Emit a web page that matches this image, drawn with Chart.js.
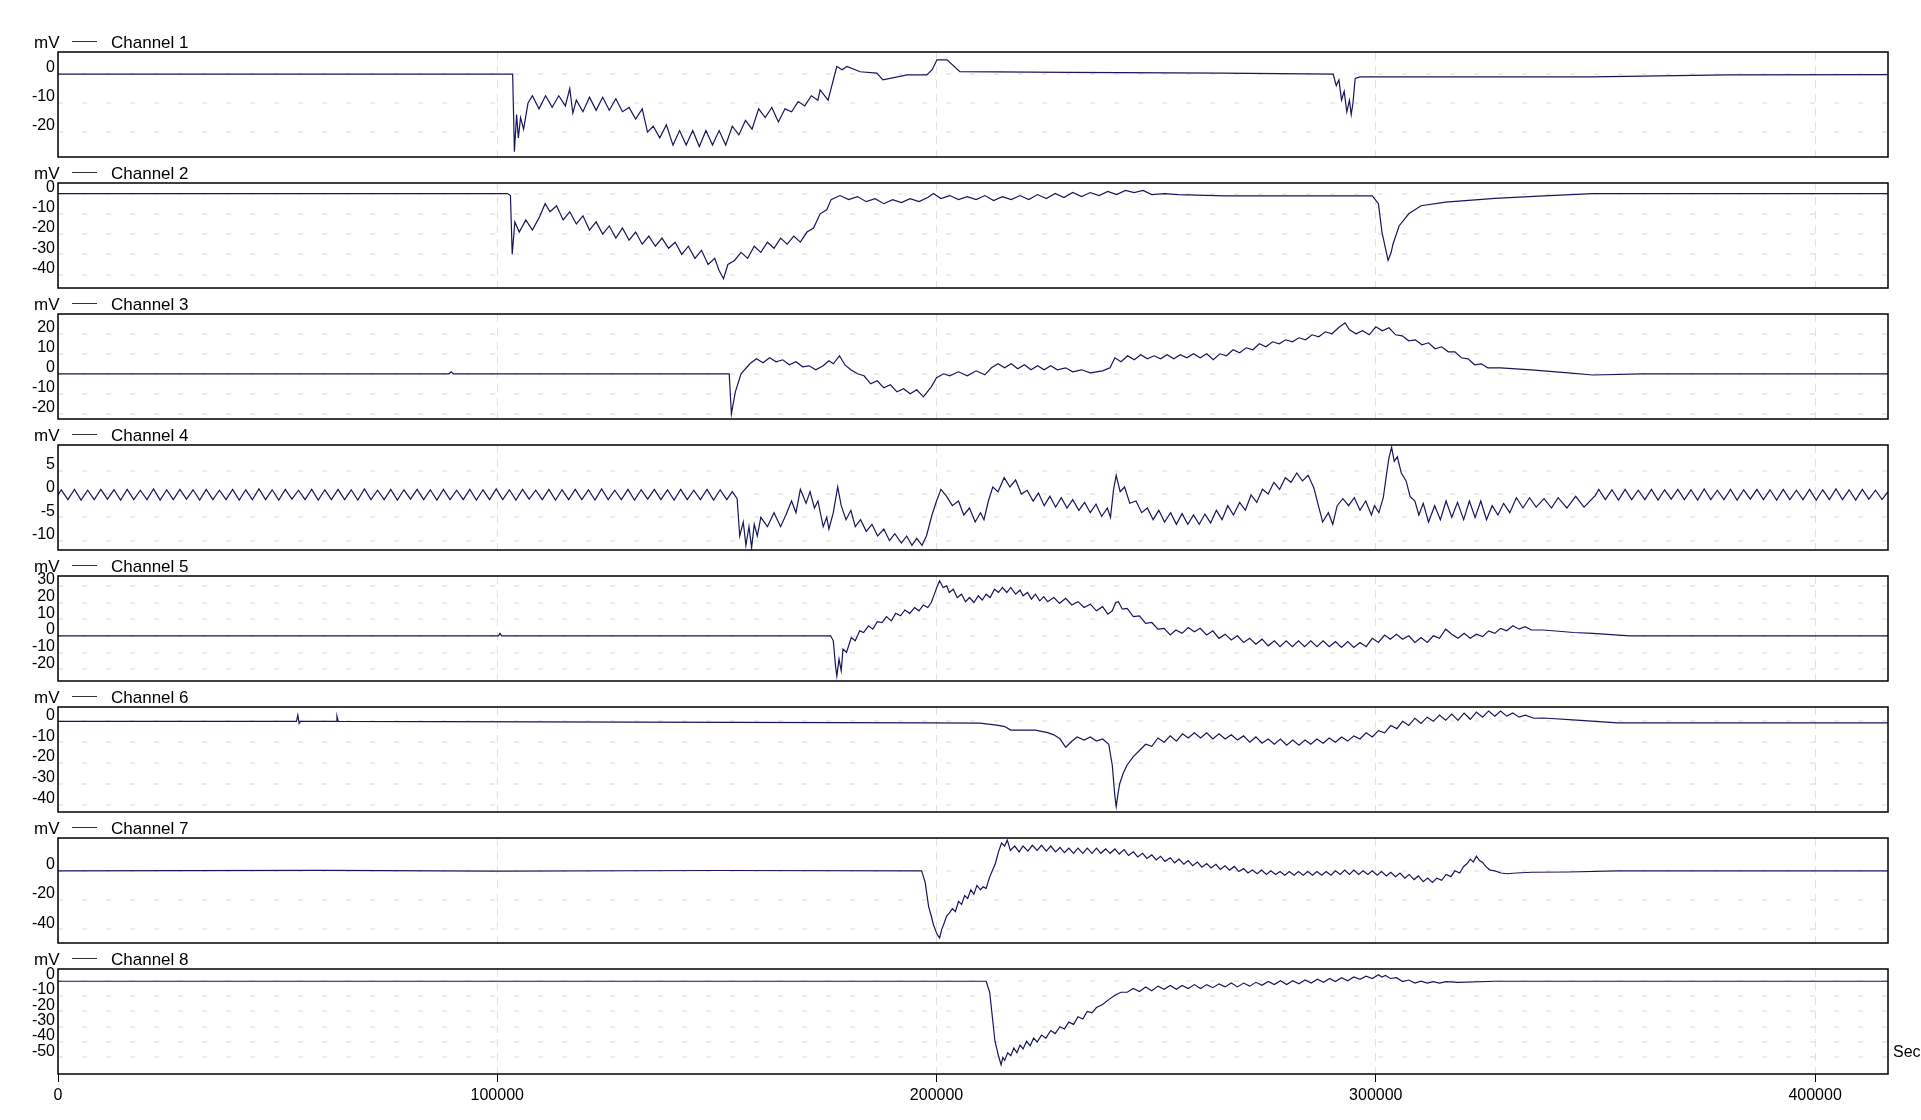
<!DOCTYPE html>
<html>
<head>
<meta charset="utf-8">
<script src="https://cdn.jsdelivr.net/npm/chart.js@4.4.1/dist/chart.umd.min.js"></script>
<style>
  html, body { margin: 0; padding: 0; background: #fff; }
  body { width: 1921px; height: 1120px; position: relative; overflow: hidden; }
  .panel { position: absolute; left: 0; width: 1921px; }
</style>
</head>
<body>
<script>
// x values in the channel arrays are in thousands of seconds
const X_UNIT = 1000;
const xMax = 416.6;
const xTicks = [0, 100000, 200000, 300000, 400000];

const channelNames = ['Channel 1', 'Channel 2', 'Channel 3', 'Channel 4',
                      'Channel 5', 'Channel 6', 'Channel 7', 'Channel 8'];

// [min, max] of each y axis, mV
const yRanges = [[-28.6, 7.6], [-46.6, 5.2], [-22.6, 29.9], [-12.0, 10.5],
                 [-27.1, 35.9], [-43.6, 6.9], [-49.5, 22.5], [-60.9, 7.7]];

const yTicks = [
  [0, -10, -20],
  [0, -10, -20, -30, -40],
  [20, 10, 0, -10, -20],
  [5, 0, -5, -10],
  [30, 20, 10, 0, -10, -20],
  [0, -10, -20, -30, -40],
  [0, -20, -40],
  [0, -10, -20, -30, -40, -50]
];

const ch1 = [[0,0],[103.5,0],[103.9,-26.8],[104.4,-14],[104.8,-22],[105.3,-15],[106,-19],[107,-10],
  [108,-7.5],[109.5,-12],[111,-7.5],[112.5,-11.5],[114,-7.5],[115.5,-11],[116.5,-5],[117.2,-13.5],[118,-9],
  [119.5,-13],[121,-8],[122.5,-12.5],[124,-8],[125.5,-12.5],[127,-8.5],[128.5,-13],[130,-11.5],[131.5,-15.5],
  [133,-12],[134.2,-20],[135.5,-18],[137,-22],[138.5,-17.5],[140,-24.5],[141.5,-19.5],[143,-24.5],[144.5,-19.5],
  [146,-25],[147.5,-19.5],[149,-24.5],[150.5,-19.5],[152,-24.5],[153.5,-18],[155,-21],[156.5,-16],[158,-19],
  [159.5,-12],[161,-15],[162.5,-11.5],[164,-16.5],[165.5,-12],[167,-13],[168.5,-9.5],[170,-11],[171.5,-7.5],
  [173,-9],[173.5,-5.5],[175.3,-9],[177.3,2.6],[178.5,1.5],[179.6,2.6],[182.6,0.8],[186.4,0.3],[187.8,-2],
  [193.3,-0.3],[197.8,-0.3],[199,1.5],[200.1,4.9],[202.4,4.9],[205.3,0.8],[230,0.6],[265,0.3],[290.3,0],
  [291,-4],[291.6,-2],[292.2,-9],[292.8,-6],[293.4,-13],[294,-9],[294.4,-14],[294.8,-10],[295.3,-1.5],
  [296.4,-1],[349,-1],[380,-0.3],[416.6,-0.2]];

const ch2 = [[0,0],[102.3,0],[103,-1],[103.4,-30],[104,-14],[105,-19],[106.5,-13],[108,-18],[109.5,-12],
  [110.9,-5],[112,-9],[113.5,-6],[115,-13],[116.5,-9],[118,-15],[119.5,-11],[121,-18],[122.5,-14],[124,-20],
  [125.5,-16],[127,-22],[128.5,-17],[130,-23],[131.5,-19],[133,-25],[134.5,-21],[136,-26],[137.5,-22],[139,-27],
  [140.5,-24],[142,-30],[143.5,-26],[145,-32],[146.5,-28],[148,-35],[149.5,-32],[150.5,-38],[151.5,-42],
  [152.5,-35],[154,-33],[155.5,-29],[157,-32],[158.5,-26],[160,-29],[161.5,-24],[163,-27],[164.5,-22],[166,-25],
  [167.5,-21],[169,-24],[170.5,-19],[172,-17],[173.5,-10],[175,-8],[176,-3],[178,-1],[180,-3],[182,-1.5],
  [184,-4],[186,-2.5],[188,-5],[190,-3],[192,-4.5],[194,-2.5],[196,-4],[198,-2],[199.3,0],[201,-2.5],[203,-1],
  [205,-3],[207,-1.5],[209,-3],[211,-1],[213,-3.5],[215,-1.5],[217,-3],[219,-1],[221,-3],[223,-0.5],[225,-2.5],
  [227,0],[229,-2],[231,0.5],[233,-1.5],[235,0.5],[237,-1],[239,1],[241,-0.5],[243,1.5],[245,0.5],[247,1.5],
  [249,-0.5],[252,0],[255,-0.5],[265.7,-1.2],[299.2,-1.2],[300.6,-5],[301.4,-19],[302.2,-27],[302.8,-33],
  [303.5,-29],[303.9,-25],[305.3,-16],[307.5,-10],[310.3,-6],[315.9,-4.2],[327.1,-2.4],[338.2,-1.2],
  [349.4,0],[416.6,0]];

const ch3 = [[0,0],[89,0],[89.5,1],[90,0],[152.8,0],[153.3,-20],[154.2,-9],[155.5,0],[157.5,5],[159,7.5],
  [160.5,5.5],[162,8],[163.5,6],[165,7],[166.5,4.5],[168,6],[169.5,3.5],[171,4],[172.5,2],[174.2,4],[175.5,6.5],
  [176.5,5],[177.9,9],[179.2,4.3],[180.5,2],[182,0],[183.5,-1],[185,-5],[186.5,-3.5],[188,-7],[189.5,-5.5],
  [191,-9],[192.5,-7.5],[194,-10],[195.5,-8],[197,-11.5],[198.8,-6.5],[200,-2],[201.6,0],[203,-1],[205,1],
  [207,-1],[209,1.5],[211,-0.5],[212.5,3],[214,5],[215.5,3],[217,5],[218.5,2.5],[220,4.5],[221.5,2],[223,4],
  [224.5,2],[226,4],[227.5,2],[229.4,3],[231,1],[233,2],[235,0.5],[237.8,1.5],[239.5,3],[240.6,8],[242,6],
  [243.5,9],[245,7],[246.5,9.5],[248,7.5],[249.5,9],[251,7.5],[252.5,9.5],[254,7.5],[255.5,9.5],[257,8],
  [258.5,10],[260,8],[261.5,10],[263,7],[264.5,10],[266,9],[267.5,12],[269,10.5],[270.5,13],[272,12],
  [273.5,15],[275,13.5],[276.5,16],[278,15],[279.5,17],[281,16],[282.5,18],[284,17],[285.5,19.5],[287,18.5],
  [288.5,21],[290,20],[291.5,23],[293,25.5],[294,22],[295.5,20],[297,21.5],[298.5,19.5],[300,23.5],[301.5,21.5],
  [303,23],[304.5,19.5],[306,19],[307.5,16.5],[309,17],[310.5,14.5],[312,15.5],[313.5,12.5],[315,13.5],
  [316.5,11],[318,11],[319.5,8],[321,7.5],[322.5,4.5],[324,5],[325.5,3],[328.4,3],[335.4,2],[343.8,0.5],
  [349.4,-0.6],[360.5,0],[416.6,0]];

const ch4 = [[0,-0.2],[0.75,0.9],[2.25,-1.2],[3.75,1],[5.25,-1.3],[6.75,0.8],[8.25,-1.2],[9.75,1],[11.25,-1.1],
  [12.75,0.9],[14.25,-1.3],[15.75,1],[17.25,-1.2],[18.75,0.8],[20.25,-1.2],[21.75,1.1],[23.25,-1.3],[24.75,0.9],
  [26.25,-1.2],[27.75,1],[29.25,-1.1],[30.75,0.9],[32.25,-1.3],[33.75,1],[35.25,-1.2],[36.75,0.8],[38.25,-1.2],
  [39.75,1],[41.25,-1.3],[42.75,0.9],[44.25,-1.2],[45.75,1.1],[47.25,-1.2],[48.75,0.9],[50.25,-1.3],[51.75,1],
  [53.25,-1.1],[54.75,0.8],[56.25,-1.2],[57.75,1],[59.25,-1.3],[60.75,0.9],[62.25,-1.2],[63.75,1],[65.25,-1.2],
  [66.75,0.9],[68.25,-1.3],[69.75,1.1],[71.25,-1.2],[72.75,0.8],[74.25,-1.2],[75.75,1],[77.25,-1.3],[78.75,0.9],
  [80.25,-1.1],[81.75,1],[83.25,-1.2],[84.75,0.9],[86.25,-1.3],[87.75,1],[89.25,-1.2],[90.75,0.8],[92.25,-1.2],
  [93.75,1],[95.25,-1.3],[96.75,0.9],[98.25,-1.2],[99.75,1.1],[101.25,-1.2],[102.75,0.9],[104.25,-1.3],
  [105.75,1],[107.25,-1.1],[108.75,0.8],[110.25,-1.2],[111.75,1],[113.25,-1.3],[114.75,0.9],[116.25,-1.2],
  [117.75,1],[119.25,-1.2],[120.75,0.9],[122.25,-1.3],[123.75,1.1],[125.25,-1.2],[126.75,0.8],[128.25,-1.2],
  [129.75,1],[131.25,-1.3],[132.75,0.9],[134.25,-1.1],[135.75,1],[137.25,-1.2],[138.75,0.9],[140.25,-1.3],
  [141.75,1],[143.25,-1.2],[144.75,0.8],[146.25,-1.2],[147.75,1],[149.25,-1.3],[150.75,0.9],[152.25,-1.2],
  [153.5,0.5],[154.6,-1],[155.2,-9],[156,-6],[156.6,-11],[157.3,-7],[157.9,-11.5],[158.5,-6.5],[159.2,-9],[160,-5],
  [161.5,-7],[163,-4],[164.5,-7],[165.7,-4.5],[167,-1.5],[168,-4],[169,1],[170.3,-2],[171.2,0.5],[172.2,-3],
  [173,-1.5],[174.2,-7],[175,-5],[175.5,-7.5],[176.5,-4],[177.5,1.5],[178.3,-2.5],[179.4,-5.5],[180.5,-3.5],
  [181.5,-7],[182.7,-5.5],[184,-8],[185.3,-6.5],[186.6,-9],[188,-7.5],[189.3,-10],[190.5,-8.5],[192,-10.5],
  [193.2,-9],[194.4,-11],[195.5,-9.5],[196.7,-11],[197.7,-9],[199,-4.4],[200,-1.5],[201,1],[202.3,-0.5],
  [203.6,-2.5],[205,-1.5],[206.2,-4.5],[207.5,-3],[208.8,-6],[210,-4],[210.8,-5.5],[211.8,-1.5],[212.8,1.5],
  [214,0.5],[215.4,3.5],[216.7,1.5],[218,3],[219.3,0],[220.6,0.8],[222,-1.5],[223.2,0.2],[224.5,-2.5],
  [225.8,-0.5],[227.1,-2.8],[228.4,-0.8],[229.7,-3],[231,-1.2],[232.4,-3.5],[233.7,-1.8],[235,-4],[236.3,-2.2],
  [237.6,-4.8],[238.9,-3],[239.6,-5],[240.3,1],[240.9,4],[241.8,0.5],[242.8,1.5],[244,-2],[245.4,-1.5],
  [246.7,-4],[248,-3],[249.3,-5.5],[250.6,-3.5],[251.9,-6],[253.3,-4],[254.6,-6.5],[255.9,-4.2],[257.2,-6.5],
  [258.5,-4.5],[259.8,-6.5],[261.1,-4.3],[262.4,-6.2],[263.7,-3.5],[265,-5.5],[266.3,-2.5],[267.6,-4.5],
  [269,-1.8],[270.3,-3.5],[271.6,-0.2],[272.9,-1.8],[274.2,1],[275.5,0],[276.8,2.5],[278.1,1],[279.4,3.5],
  [280.7,2.5],[282,4.5],[283.3,2.8],[284.6,4],[285.9,1.3],[286.8,-2],[287.9,-6],[289.2,-4],[290.2,-6.5],
  [291.2,-2.5],[292.5,-1],[293.8,-2.5],[295.1,-0.8],[296.4,-3.5],[297.7,-1.5],[299,-4.5],[299.7,-2.5],
  [300.7,-4],[301.7,-0.8],[302.4,4],[303,7.8],[303.6,10],[304.2,7],[304.9,8],[305.8,4.5],[306.9,2.8],
  [307.8,-0.5],[308.9,-1.5],[309.8,-4.5],[310.8,-2],[312,-6],[313.4,-2.5],[314.7,-5.5],[316,-1.5],[317.3,-5],
  [318.6,-1.8],[320,-5.5],[321.3,-1.5],[322.6,-5],[323.9,-1.5],[325.2,-5.5],[326.5,-2.5],[327.8,-4.5],
  [329.1,-2],[330.5,-4],[332,-0.8],[333.5,-3],[335,-0.8],[336.5,-2.8],[338.3,-1],[340,-3],[341.5,-0.8],
  [343.5,-3],[345.5,-0.5],[347.4,-2.8],[350,-0.3],[350.75,1],[352.25,-1.2],[353.75,0.9],[355.25,-1.3],
  [356.75,1],[358.25,-1.2],[359.75,0.8],[361.25,-1.2],[362.75,1],[364.25,-1.3],[365.75,0.9],[367.25,-1.1],
  [368.75,1],[370.25,-1.2],[371.75,0.9],[373.25,-1.3],[374.75,1.1],[376.25,-1.2],[377.75,0.8],[379.25,-1.2],
  [380.75,1],[382.25,-1.3],[383.75,0.9],[385.25,-1.1],[386.75,1],[388.25,-1.2],[389.75,0.9],[391.25,-1.3],
  [392.75,1],[394.25,-1.2],[395.75,0.8],[397.25,-1.2],[398.75,1],[400.25,-1.3],[401.75,0.9],[403.25,-1.2],
  [404.75,1.1],[406.25,-1.2],[407.75,0.9],[409.25,-1.3],[410.75,1],[412.25,-1.1],[413.75,0.8],[415.25,-1.2],
  [416.6,0.5]];

const ch5 = [[0,0],[100.3,0],[100.6,1.5],[101,0],[175.9,0],[176.5,-3],[177,-18],[177.3,-24],[177.8,-14],
  [178.3,-21],[178.7,-8],[179.5,-10],[180.6,-1],[181.5,-3],[182.5,3],[183.4,2],[184.5,6],[185.5,4],[186.5,8.5],
  [187.6,8],[188.6,11.5],[189.7,9],[190.7,13.5],[191.8,12],[192.8,15.5],[193.9,13.5],[195,17],[196,15],
  [197,18.5],[198,17],[198.8,20],[199.5,25],[200.2,30],[200.7,33],[201.5,29],[202.3,30],[202.9,26],[203.8,28],
  [204.7,23],[205.7,25],[206.6,20.5],[207.5,23],[208.5,20],[209.5,24],[210.4,21.5],[211.3,25],[212.2,23],
  [213.2,28],[214.1,26],[215,29],[216,26],[216.9,29],[218,25],[219,27.5],[219.7,24],[220.7,26],[221.6,22],
  [222.5,25],[223.5,21],[224.4,23.5],[225.3,20.5],[226.7,23],[228,19.5],[229.4,22.5],[230.8,18.5],[232.2,20.5],
  [233.6,17],[235,19],[236.4,15],[237.8,17.5],[239,13],[240,15],[240.8,20],[241.4,20.5],[242.3,16],[243.4,16.5],
  [244.8,11.5],[246.2,12],[247.6,7.5],[249,8],[250.4,4],[251.8,4.5],[253.2,0.5],[254.5,3.5],[255.9,1.5],
  [257.3,5],[258.7,2.5],[260,4.5],[261.5,0.5],[262.9,3],[264.3,-1.5],[265.7,1],[267.1,-2.5],[268.5,0],
  [269.9,-4],[271.3,-1.5],[272.7,-5],[274.1,-2],[275.5,-6],[276.9,-3],[278.2,-6.5],[279.6,-3],[281,-6.5],
  [282.4,-3],[283.8,-6.5],[285.2,-3],[286.6,-6.5],[288,-3],[289.4,-6.5],[290.8,-3.5],[292.2,-7],[293.6,-3.5],
  [295,-7],[296.4,-4],[297.8,-6.5],[299.2,-1.5],[300.6,-4],[302,0.5],[303.3,-2],[304.7,1],[306.1,-2],[307.5,0],
  [308.9,-4],[310.3,-1],[311.7,-4],[313.1,0],[314.5,-1.5],[315.9,4],[317.3,1],[318.7,-1.5],[320.1,1.5],
  [321.5,-1.5],[322.9,1],[324.3,-0.5],[325.7,3],[327.1,1.5],[328.4,4.5],[329.8,3],[331.2,6],[332.6,4],
  [334,5.5],[335.4,3.5],[338,3.5],[341,2.9],[345,2],[349.4,1.5],[357.8,0],[416.6,0]];

const ch6 = [[0,0],[54.3,0],[54.6,3],[54.9,-1],[55.2,0],[63.3,0],[63.5,2.5],[63.8,0],[198.8,-0.7],
  [209.9,-0.9],[214.1,-1.9],[215.5,-2.5],[216.9,-4.2],[222.5,-4.2],[225.3,-5.4],[226.7,-6.5],[228.1,-8.4],
  [229.4,-12.5],[230.1,-11],[230.8,-9.6],[232,-7.5],[233.6,-9],[235,-7.5],[236.4,-9.5],[237.8,-8.5],[239.2,-11],
  [240,-21],[240.6,-36],[240.9,-41],[241.3,-35],[241.7,-30],[242.5,-25],[243.4,-21],[244.8,-17],[246.2,-14],
  [247.6,-11],[249,-12],[250.4,-8],[251.8,-10],[253.2,-7],[254.6,-9.5],[256,-6],[257.3,-8],[258.7,-5.5],
  [260.1,-8],[261.5,-5.5],[262.9,-8.5],[264.3,-6],[265.7,-8.5],[267.1,-6.5],[268.5,-9],[269.9,-7],[271.3,-10],
  [272.7,-7.5],[274.1,-10.5],[275.5,-8.5],[276.9,-11],[278.3,-8.5],[279.7,-11.5],[281.1,-9],[282.5,-11.5],
  [283.9,-9],[285.2,-11],[286.6,-8.5],[288,-10.5],[289.4,-8],[290.8,-10],[292.2,-7.5],[293.6,-9.5],[295,-7],
  [296.4,-8.5],[297.8,-5.5],[299.2,-7.5],[300.6,-4.5],[302,-5.5],[303.4,-2],[304.8,-3.5],[306.1,0],[307.5,-2],
  [308.9,1.5],[310.3,-1],[311.7,2],[313.1,0],[314.5,3],[315.9,0.5],[317.3,3.5],[318.7,0.5],[320.1,4],[321.5,1],
  [322.9,4.5],[324.3,2],[325.7,5],[327.1,2.5],[328.4,5],[329.8,2.5],[331.2,4],[332.6,2],[334,3],[336,1.5],
  [338.2,1.6],[346.6,0.5],[355,-0.7],[416.6,-0.7]];

const ch7 = [[0,0],[60,0.3],[100,-0.2],[150,0.2],[196.6,0],[197.4,-7.7],[198.2,-24.5],[198.8,-31],[199.3,-37],
  [199.8,-41],[200.2,-44],[200.7,-46],[201.2,-40],[201.6,-37],[202.3,-31],[202.9,-29],[203.6,-26],[204.3,-28],
  [205,-21],[205.7,-23],[206.4,-17],[207.1,-19],[207.8,-13],[208.5,-16],[209.2,-10],[210,-13],[210.6,-11],
  [211.3,-12],[212,-5],[212.7,0],[213.4,5],[214.1,13],[214.8,19],[215.5,17],[216.1,21],[216.8,14],[217.8,17],
  [218.8,13],[219.7,17],[220.8,13.5],[221.8,17.5],[222.9,14],[223.9,17.5],[225,13.5],[226,17],[227.1,13],
  [228.1,16],[229.1,12.5],[230.1,15.5],[231.2,12],[232.2,15.5],[233.3,12],[234.3,15.5],[235.4,12],[236.4,15.5],
  [237.4,12],[238.5,15],[239.5,12],[240.6,15],[241.6,11.5],[242.7,14.5],[243.7,10.5],[244.8,13],[245.8,9.5],
  [246.9,12],[247.9,8.5],[249,11],[250,7.5],[251,10],[252,6.5],[253.2,9],[254.2,5.5],[255.2,8],[256.3,4.5],
  [257.3,7],[258.3,3.5],[259.4,6],[260.4,2.5],[261.5,5],[262.5,2],[263.6,4.5],[264.6,1],[265.7,3.5],[266.7,0.5],
  [267.8,3],[268.8,-0.5],[269.9,1.5],[270.9,-1.5],[271.9,0.5],[273,-2],[274,0.5],[275.1,-2.5],[276.1,0],
  [277.2,-2.5],[278.2,-0.5],[279.3,-3],[280.3,-0.5],[281.4,-3],[282.4,-0.5],[283.5,-3],[284.5,-0.5],[285.6,-3],
  [286.6,-0.5],[287.7,-3],[288.7,-0.5],[289.8,-3],[290.8,0],[291.9,-2.5],[292.9,0.5],[294,-2.5],[295,0.5],
  [296.1,-2.5],[297.1,0],[298.2,-2.5],[299.2,0],[300.3,-3],[301.3,-0.5],[302.4,-3.5],[303.4,-1],[304.5,-4],
  [305.5,-1.5],[306.6,-5],[307.6,-2.5],[308.7,-6],[309.7,-3.5],[310.8,-7.5],[311.8,-5],[312.9,-8],[313.9,-5],
  [315,-6.5],[316,-2.5],[317.1,-4],[318,0],[319.1,-1.5],[320,3],[320.8,5],[321.5,8],[322.2,6],[322.9,10],
  [323.6,7],[324.3,5.7],[325,3],[326,0.5],[327.1,0],[328.5,-1.5],[329.9,-2],[332,-1.5],[335.4,-1],[343.8,-0.8],
  [355,0],[416.6,0]];

const ch8 = [[0,-0.3],[211.3,-0.3],[212.1,-7.5],[212.7,-23.5],[213.3,-39.5],[214.1,-49],[214.7,-55],[215.1,-50],
  [215.5,-52],[216.2,-47],[216.9,-49],[217.6,-44],[218.3,-47],[219,-42],[219.7,-44.5],[220.5,-39.5],[221.3,-42.5],
  [222.1,-37.5],[222.9,-40],[223.9,-35.5],[224.9,-37.5],[226,-32.5],[227,-34.5],[228.1,-30],[229.1,-31.5],
  [230.1,-27],[231.2,-28.5],[232.2,-23.5],[233.3,-25],[234.3,-20],[235.4,-21],[236.4,-17.5],[237.8,-15.5],
  [239.2,-12.3],[240.6,-9.5],[242,-7.5],[243.4,-7.5],[244.8,-5],[246.2,-7],[247.6,-4],[249,-6.5],[250.4,-3.5],
  [251.8,-5.5],[253.2,-3],[254.6,-5.5],[255.9,-3],[257.3,-5],[258.7,-2.5],[260.1,-5],[261.5,-2.5],[262.9,-4.5],
  [264.3,-2],[265.7,-4],[267.1,-1.5],[268.5,-4],[269.9,-1.5],[271.3,-3.5],[272.7,-1],[274.1,-3],[275.5,-0.5],
  [276.9,-2.5],[278.3,0],[279.7,-2.5],[281.1,0],[282.5,-2],[283.9,0.5],[285.3,-1.5],[286.7,1],[288.1,-1],
  [289.5,1.5],[290.8,-0.5],[292.2,2],[293.6,0],[295,2.5],[296.4,1],[297.8,3],[299.2,1.5],[300.6,4],[301.4,2.5],
  [302.2,3.5],[303.3,1.5],[304.7,2],[306.1,-0.5],[307.5,0.5],[308.9,-1.5],[310.3,-0.3],[311.7,-1.5],[313.1,-0.5],
  [314.5,-1.5],[316,-0.5],[318.7,-1.1],[327.1,-0.3],[416.6,-0.3]];

const series = [ch1, ch2, ch3, ch4, ch5, ch6, ch7, ch8];

const PANEL_TOP = 52, PANEL_STEP = 131, PANEL_H = 105, HEAD = 26;
const TRACE = '#16165e';
const FONT = { family: '"Liberation Sans", Arial, sans-serif', size: 16 };

// frame around the plot area, the "mV  —— Channel n" header, and the "Sec" unit
const panelDecor = {
  id: 'panelDecor',
  afterDraw(chart, args, opts) {
    const { ctx, chartArea: a } = chart;
    ctx.save();
    ctx.strokeStyle = '#000';
    ctx.lineWidth = 1.5;
    ctx.strokeRect(a.left, a.top, a.right - a.left, a.bottom - a.top);

    ctx.font = '17px "Liberation Sans", Arial, sans-serif';
    ctx.fillStyle = '#000';
    ctx.textBaseline = 'alphabetic';
    ctx.fillText('mV', 34, a.top - 4);
    ctx.strokeStyle = '#333';
    ctx.lineWidth = 1;
    ctx.beginPath();
    ctx.moveTo(72, a.top - 10.5);
    ctx.lineTo(97, a.top - 10.5);
    ctx.stroke();
    ctx.fillText(chart.data.datasets[0].label, 111, a.top - 4);

    if (opts.unit) {
      ctx.font = '16px "Liberation Sans", Arial, sans-serif';
      ctx.textBaseline = 'middle';
      ctx.fillText(opts.unit, a.right + 5, a.bottom - 21);
    }
    ctx.restore();
  }
};

function makePanel(i) {
  const last = i === series.length - 1;
  const top = PANEL_TOP + i * PANEL_STEP - HEAD;
  const height = last ? 1120 - top : HEAD + PANEL_H + 2;

  const box = document.createElement('div');
  box.className = 'panel';
  box.style.top = top + 'px';
  box.style.height = height + 'px';
  const canvas = document.createElement('canvas');
  box.appendChild(canvas);
  document.body.appendChild(box);

  return new Chart(canvas, {
    type: 'line',
    data: {
      datasets: [{
        label: channelNames[i],
        data: series[i].map(p => ({ x: p[0] * X_UNIT, y: p[1] })),
        borderColor: TRACE,
        borderWidth: 1.2,
        pointRadius: 0,
        tension: 0
      }]
    },
    options: {
      responsive: true,
      maintainAspectRatio: false,
      animation: false,
      devicePixelRatio: 1,
      layout: { padding: { top: HEAD, right: 33, bottom: last ? 0 : 2, left: 0 } },
      plugins: {
        legend: { display: false },
        tooltip: { enabled: false },
        panelDecor: { unit: last ? 'Sec' : '' }
      },
      scales: {
        x: {
          type: 'linear',
          min: 0,
          max: xMax * X_UNIT,
          afterBuildTicks: s => { s.ticks = xTicks.map(v => ({ value: v })); },
          afterFit: s => {
            s.height = last ? 46 : 0;
            s.paddingLeft = 0;
            s.paddingRight = 0;
          },
          ticks: {
            display: last,
            autoSkip: false,
            maxRotation: 0,
            padding: 4,
            color: '#000',
            font: FONT,
            callback: v => String(v)
          },
          grid: { color: '#e2e2e2', lineWidth: 1, drawTicks: last, tickLength: 8, tickColor: '#000', tickWidth: 1 },
          border: { display: false, dash: [8, 6] }
        },
        y: {
          min: yRanges[i][0],
          max: yRanges[i][1],
          afterBuildTicks: s => { s.ticks = yTicks[i].map(v => ({ value: v })); },
          afterFit: s => {
            s.width = 58;
            s.paddingTop = 0;
            s.paddingBottom = 0;
          },
          ticks: {
            autoSkip: false,
            padding: 3,
            labelOffset: -6,
            color: '#000',
            font: { ...FONT, lineHeight: 1 }
          },
          grid: { color: '#ececec', lineWidth: 2, drawTicks: false },
          border: { display: false, dash: [5, 19] }
        }
      }
    },
    plugins: [panelDecor]
  });
}

series.forEach((s, i) => makePanel(i));
</script>
</body>
</html>
